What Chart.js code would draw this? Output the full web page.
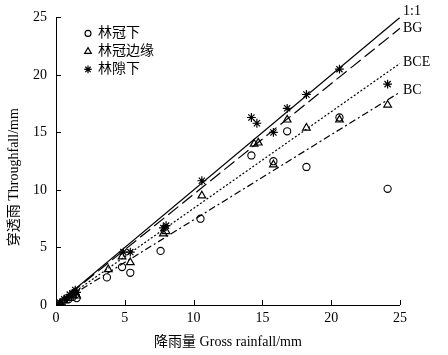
<!DOCTYPE html>
<html>
<head>
<meta charset="utf-8">
<script src="https://cdn.jsdelivr.net/npm/chart.js@4/dist/chart.umd.min.js"></script>
<style>
html,body{margin:0;padding:0;background:#fff;}
#wrap{width:448px;height:355px;}
</style>
</head>
<body>
<div id="wrap"><canvas id="c" width="448" height="355"></canvas></div>
<script>
// ---- data ----
const seriesNames = ["林冠下", "林冠边缘", "林隙下"];
const canopyX = [0.3, 0.5, 0.9, 1.2, 1.4, 1.5, 3.7, 4.8, 5.4, 7.6, 10.5, 14.2, 15.8, 16.8, 18.2, 20.6, 24.1];
const canopyY = [0.1, 0.3, 0.5, 0.7, 0.9, 0.6, 2.4, 3.3, 2.8, 4.7, 7.5, 13.0, 12.5, 15.1, 12.0, 16.3, 10.1];
const edgeX = [0.3, 0.6, 0.9, 1.2, 1.4, 1.5, 3.8, 4.8, 5.4, 7.8, 8.0, 10.6, 14.4, 14.7, 15.8, 16.8, 18.2, 20.6, 24.1];
const edgeY = [0.1, 0.4, 0.6, 0.9, 1.1, 0.8, 3.1, 4.2, 3.7, 6.2, 6.4, 9.5, 14.0, 14.1, 12.2, 16.1, 15.4, 16.1, 17.4];
const gapX = [0.3, 0.6, 0.8, 1.0, 1.2, 1.4, 1.5, 4.9, 5.4, 7.8, 8.0, 10.6, 14.2, 14.6, 15.8, 16.8, 18.2, 20.6, 24.1];
const gapY = [0.2, 0.5, 0.6, 0.9, 1.0, 1.3, 1.1, 4.6, 4.6, 6.7, 6.9, 10.8, 16.3, 15.8, 15.0, 17.1, 18.3, 20.5, 19.2];

const lineNames = ["1:1", "BG", "BCE", "BC"];
const lineStartX = [0, 0, 0, 0];
const lineStartY = [0, 0, 0, 0];
const lineEndX = [25, 25, 25, 25];
const lineEndY = [25, 24.05, 21.0, 18.5];

const xTicks = [0, 5, 10, 15, 20, 25];
const yTicks = [0, 5, 10, 15, 20, 25];
const xTitle = '降雨量 Gross rainfall/mm';
const yTitle = '穿透雨 Throughfall/mm';

// ---- styles ----
const pointStyles = ["circle", "triangle", "star"];
const pointRadii = [3.6, 4.4, 4.4];
const pointWidths = [1.1, 1.2, 1.2];
const lineDashes = [[], [13, 5], [2, 2], [7, 3, 2, 3]];
const lineLabelDy = [-6, 0, -1, -2];
const serif = "'Liberation Serif', 'Noto Sans CJK SC', serif";

const zip = (xs, ys) => xs.map((x, i) => ({x: x, y: ys[i]}));
const pointSets = [zip(canopyX, canopyY), zip(edgeX, edgeY), zip(gapX, gapY)];

const datasets = [];
lineNames.forEach((n, i) => {
  datasets.push({
    label: n, type: 'line', isRefLine: true,
    data: [{x: lineStartX[i], y: lineStartY[i]}, {x: lineEndX[i], y: lineEndY[i]}],
    borderColor: '#000', borderWidth: 1.2, borderDash: lineDashes[i],
    pointRadius: 0, fill: false, tension: 0, order: 2
  });
});
seriesNames.forEach((n, i) => {
  datasets.push({
    label: n, type: 'scatter', isRefLine: false,
    data: pointSets[i],
    pointStyle: pointStyles[i], pointRadius: pointRadii[i],
    borderColor: '#000', backgroundColor: 'rgba(255,255,255,0)',
    pointBorderWidth: pointWidths[i], showLine: false, order: 1
  });
});

const axisPlugin = {
  id: 'axisPlugin',
  afterDatasetsDraw(chart) {
    const ctx = chart.ctx;
    const xs = chart.scales.x, ys = chart.scales.y;
    const a = chart.chartArea;
    ctx.save();
    ctx.strokeStyle = '#000';
    ctx.lineWidth = 1;
    ctx.beginPath();
    ctx.moveTo(a.left + 0.5, a.top);
    ctx.lineTo(a.left + 0.5, a.bottom + 0.5);
    ctx.lineTo(a.right, a.bottom + 0.5);
    ctx.stroke();
    ctx.beginPath();
    xTicks.forEach(v => {
      const px = Math.round(xs.getPixelForValue(v)) + 0.5;
      ctx.moveTo(px, a.bottom); ctx.lineTo(px, a.bottom - 5);
    });
    yTicks.forEach(v => {
      const py = Math.round(ys.getPixelForValue(v)) + 0.5;
      ctx.moveTo(a.left, py); ctx.lineTo(a.left + 5, py);
    });
    ctx.stroke();

    // y title
    ctx.fillStyle = '#000';
    ctx.font = "14px " + serif;
    ctx.save();
    ctx.translate(14, (a.top + a.bottom) / 2 + 16);
    ctx.rotate(-Math.PI / 2);
    ctx.textAlign = 'center';
    ctx.textBaseline = 'middle';
    ctx.fillText(yTitle, 0, 0);
    ctx.restore();

    // line end labels
    ctx.font = "14px " + serif;
    ctx.textAlign = 'left';
    ctx.textBaseline = 'middle';
    chart.data.datasets.forEach((ds, di) => {
      if (!ds.isRefLine) return;
      const meta = chart.getDatasetMeta(di);
      const last = meta.data[meta.data.length - 1];
      const idx = lineNames.indexOf(ds.label);
      ctx.fillText(ds.label, last.x + 3, last.y + lineLabelDy[idx]);
    });

    // legend
    const lx = a.left + 32, ly0 = a.top + 16, dy = 18;
    seriesNames.forEach((n, i) => {
      const y = ly0 + i * dy;
      ctx.lineWidth = pointWidths[i];
      ctx.strokeStyle = '#000';
      ctx.fillStyle = 'rgba(255,255,255,0)';
      Chart.helpers.drawPoint(ctx, {pointStyle: pointStyles[i], radius: pointRadii[i] - 0.6, rotation: 0, borderWidth: pointWidths[i]}, lx, y);
      ctx.fillStyle = '#000';
      ctx.font = "14px " + serif;
      ctx.textAlign = 'left';
      ctx.textBaseline = 'middle';
      ctx.fillText(n, lx + 10, y);
    });
    ctx.restore();
  }
};

new Chart(document.getElementById('c'), {
  type: 'scatter',
  data: {datasets: datasets},
  options: {
    responsive: false,
    animation: false,
    layout: {padding: {top: 15, right: 48, left: 0, bottom: 0}},
    plugins: {legend: {display: false}, tooltip: {enabled: false}},
    scales: {
      x: {
        type: 'linear', min: 0, max: 25,
        afterBuildTicks: s => { s.ticks = xTicks.map(v => ({value: v})); },
        afterFit: s => { s.height = 50; },
        grid: {display: false, drawTicks: false},
        border: {display: false},
        ticks: {color: '#000', font: {family: serif, size: 14}, padding: 5, maxRotation: 0},
        title: {display: true, text: xTitle, color: '#000', font: {family: serif, size: 14}, padding: {top: 3}}
      },
      y: {
        type: 'linear', min: 0, max: 25,
        afterBuildTicks: s => { s.ticks = yTicks.map(v => ({value: v})); },
        afterFit: s => { s.width = 56; },
        grid: {display: false, drawTicks: false},
        border: {display: false},
        ticks: {color: '#000', font: {family: serif, size: 14}, padding: 9},
        title: {display: false}
      }
    }
  },
  plugins: [axisPlugin]
});
</script>
</body>
</html>
